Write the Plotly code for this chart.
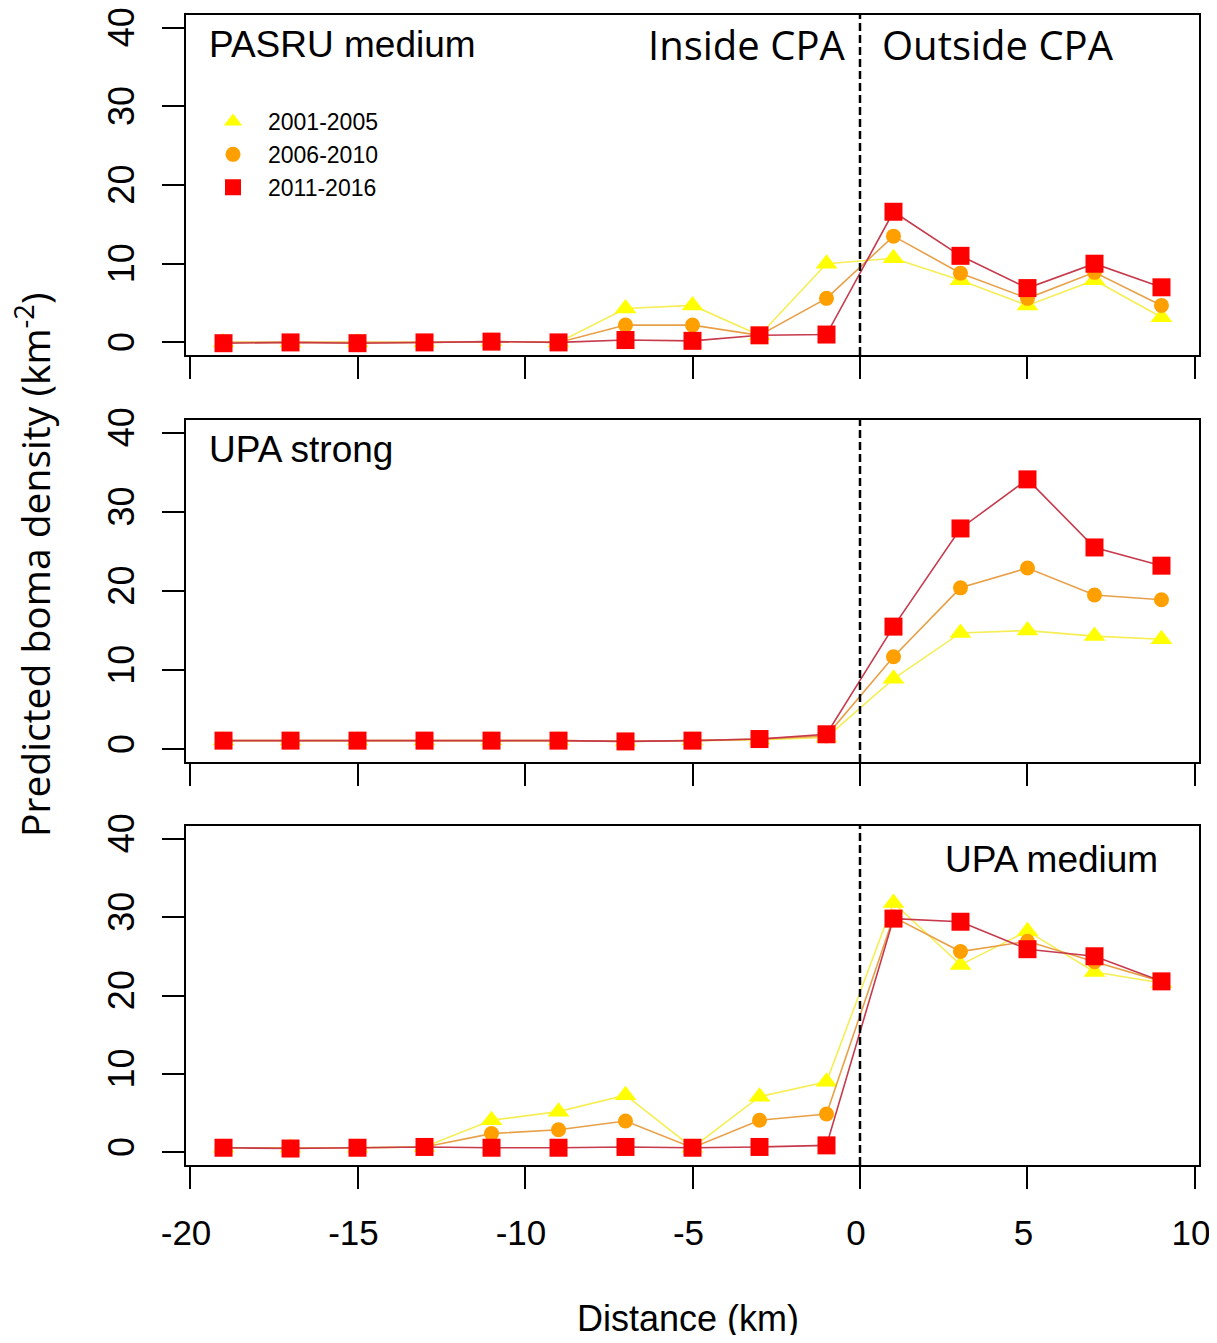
import plotly.graph_objects as go

distance = [-19, -17, -15, -13, -11, -9, -7, -5, -3, -1, 1, 3, 5, 7, 9]
periods = ["2001-2005", "2006-2010", "2011-2016"]

# Panel 1: PASRU medium
pasru_2001 = [0, 0, 0, 0, 0.1, 0, 4.3, 4.7, 0.9, 10.0, 10.7, 7.9, 4.7, 7.9, 3.2]
pasru_2006 = [0, 0, 0, 0, 0.1, 0, 2.2, 2.2, 0.9, 5.6, 13.5, 8.8, 5.6, 8.9, 4.7]
pasru_2011 = [-0.1, 0, -0.1, 0, 0.1, 0, 0.3, 0.2, 0.9, 1.0, 16.6, 11.0, 6.9, 10.0, 7.0]

# Panel 2: UPA strong
upas_2001 = [1.1, 1.1, 1.1, 1.1, 1.1, 1.1, 1.0, 1.1, 1.2, 1.5, 8.9, 14.7, 15.0, 14.3, 13.9]
upas_2006 = [1.1, 1.1, 1.1, 1.1, 1.1, 1.1, 1.0, 1.1, 1.3, 1.7, 11.7, 20.4, 22.9, 19.5, 18.9]
upas_2011 = [1.1, 1.1, 1.1, 1.1, 1.1, 1.1, 1.0, 1.1, 1.3, 1.9, 15.5, 27.9, 34.1, 25.5, 23.2]

# Panel 3: UPA medium
upam_2001 = [0.6, 0.6, 0.6, 0.7, 4.1, 5.2, 7.3, 0.6, 7.1, 9.0, 31.8, 23.9, 28.2, 23.0, 21.6]
upam_2006 = [0.6, 0.6, 0.6, 0.7, 2.4, 2.9, 4.0, 0.6, 4.1, 4.9, 30.0, 25.6, 26.9, 24.3, 21.8]
upam_2011 = [0.6, 0.5, 0.6, 0.7, 0.6, 0.6, 0.7, 0.6, 0.7, 0.9, 29.8, 29.4, 25.9, 25.0, 21.8]

panel_names = ["PASRU medium", "UPA strong", "UPA medium"]
panels = [
    [pasru_2001, pasru_2006, pasru_2011],
    [upas_2001, upas_2006, upas_2011],
    [upam_2001, upam_2006, upam_2011],
]

y_ticks = [0, 10, 20, 30, 40]
x_ticks = [-20, -15, -10, -5, 0, 5, 10]

marker_colors = ["#FFFF00", "#FFA000", "#FF0000"]
line_colors = ["#F5EE55", "#E8A048", "#C63A4C"]
symbols = ["triangle-up", "circle", "square"]
sizes = [19, 15, 18]

# page body has an 8px margin, so figure coordinates are offset by 8px
W, H = 1209, 1327
fig = go.Figure()

axis_suffix = ["", "2", "3"]
for p, series in enumerate(panels):
    for s, vals in enumerate(series):
        fig.add_trace(go.Scatter(
            x=distance, y=vals, mode="lines+markers",
            line=dict(color=line_colors[s], width=1.6),
            marker=dict(symbol=symbols[s], size=sizes[s], color=marker_colors[s], line=dict(width=0)),
            xaxis="x" + axis_suffix[p], yaxis="y" + axis_suffix[p],
            showlegend=False, name=periods[s]))

# legend entries
for s in range(3):
    fig.add_trace(go.Scatter(
        x=[None], y=[None], mode="markers",
        marker=dict(symbol=symbols[s], size=sizes[s], color=marker_colors[s], line=dict(width=0)),
        name=periods[s], showlegend=True, xaxis="x", yaxis="y"))

# pixel geometry of the three panel boxes (top, bottom), figure coords
boxes = [(7, 347), (412, 754), (818, 1157)]
x_left, x_right = 178, 1191

layout = dict(
    width=W, height=H,
    margin=dict(l=0, r=0, t=0, b=0, autoexpand=False),
    paper_bgcolor="white", plot_bgcolor="white",
    font=dict(family="Liberation Sans, Arial", color="black"),
    showlegend=True,
    legend=dict(x=190 / W, y=1 - 92 / H, xanchor="left", yanchor="top",
                bgcolor="rgba(0,0,0,0)", font=dict(size=23, family="Liberation Sans, Arial"),
                itemsizing="trace", itemwidth=60, tracegroupgap=0),
)

for p in range(3):
    top, bot = boxes[p]
    sfx = axis_suffix[p]
    xa = dict(
        domain=[x_left / W, x_right / W], range=[-20.12, 10.12],
        tickmode="array", tickvals=x_ticks, ticktext=[str(v) for v in x_ticks],
        ticks="outside", ticklen=22, tickwidth=2, tickcolor="black",
        showline=True, mirror=True, linecolor="black", linewidth=2,
        showgrid=False, zeroline=False, automargin=False,
        showticklabels=(p == 2), ticklabeloverflow="allow",
        ticklabelshift=-4,
        tickfont=dict(size=35, family="Liberation Sans, Arial"),
        ticklabelstandoff=14,
        anchor="y" + sfx,
    )
    ya = dict(
        domain=[1 - bot / H, 1 - top / H], range=[-1.6, 41.6],
        tickmode="array", tickvals=y_ticks, ticktext=[str(v) for v in y_ticks],
        ticks="outside", ticklen=22, tickwidth=2, tickcolor="black",
        showline=True, mirror=True, linecolor="black", linewidth=2,
        showgrid=False, zeroline=False, automargin=False,
        tickangle=-90, ticklabeloverflow="allow",
        ticklabelshift=(5 if p == 0 else 0),
        tickfont=dict(size=36, family="Liberation Sans, Arial"),
        ticklabelstandoff=14,
        anchor="x" + sfx,
    )
    layout["xaxis" + sfx] = xa
    layout["yaxis" + sfx] = ya

fig.update_layout(**layout)

# dashed vertical line at boundary
for p in range(3):
    sfx = axis_suffix[p]
    fig.add_shape(type="line", xref="x" + sfx, yref="y" + sfx + " domain",
                  x0=0, x1=0, y0=0, y1=1,
                  line=dict(color="black", width=2.5, dash="8px,4px"))

# panel labels
fig.add_annotation(text="PASRU medium", xref="x", yref="y", x=-19.48, y=37.9,
                   xanchor="left", yanchor="middle", showarrow=False,
                   font=dict(size=37, family="Liberation Sans, Arial"))
fig.add_annotation(text="UPA strong", xref="x2", yref="y2", x=-19.48, y=37.9,
                   xanchor="left", yanchor="middle", showarrow=False,
                   font=dict(size=37, family="Liberation Sans, Arial"))
fig.add_annotation(text="UPA medium", xref="x3", yref="y3", x=8.96, y=37.3,
                   xanchor="right", yanchor="middle", showarrow=False,
                   font=dict(size=37, family="Liberation Sans, Arial"))
fig.add_annotation(text="Inside CPA", xref="x", yref="y", x=-0.4, y=37.9,
                   xanchor="right", yanchor="middle", showarrow=False,
                   font=dict(size=40, family="Open Sans"))
fig.add_annotation(text="Outside CPA", xref="x", yref="y", x=0.6, y=37.9,
                   xanchor="left", yanchor="middle", showarrow=False,
                   font=dict(size=40, family="Open Sans"))

# axis titles
fig.add_annotation(text="Predicted boma density (km<sup>-2</sup>)", xref="paper", yref="paper",
                   x=25 / W, y=1 - 557 / H, textangle=-90, showarrow=False,
                   xanchor="center", yanchor="middle",
                   font=dict(size=39, family="Open Sans"))
fig.add_annotation(text="Distance (km)", xref="paper", yref="paper",
                   x=680 / W, y=1 - 1310 / H, showarrow=False,
                   xanchor="center", yanchor="middle",
                   font=dict(size=36, family="Liberation Sans, Arial"))

fig.write_html("out.html")
